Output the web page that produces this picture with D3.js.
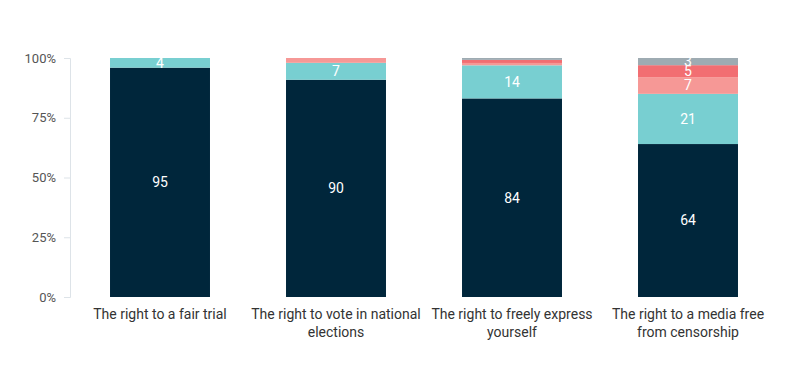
<!DOCTYPE html>
<html>
<head>
<meta charset="utf-8">
<script src="https://cdn.jsdelivr.net/npm/d3@7"></script>
<style>
  body { margin: 0; background: #fff; }
  #chart { width: 800px; height: 373px; }
  text { font-family: Roboto, "Noto Sans", sans-serif; }
</style>
</head>
<body>
<div id="chart"></div>
<script>
var categories = ["The right to a fair trial", "The right to vote in national elections",
  "The right to freely express yourself", "The right to a media free from censorship"];
var seriesNames = ["s1", "s2", "s3", "s4", "s5"];
var s1 = [95, 90, 84, 64];
var s2 = [4, 7, 14, 21];
var s3 = [0, 2, 1, 7];
var s4 = [0, 0, 1.3, 5];
var s5 = [0, 0, 0.8, 3];
var tickValues = [0, 0.25, 0.5, 0.75, 1];
var colors = ["#00263b", "#78cfd1", "#f69896", "#f26e72", "#9eabb2"];

var width = 800, height = 373;
var margin = { top: 58, left: 70, right: 24, bottom: 76 };

var svg = d3.select("#chart").append("svg")
    .attr("width", width)
    .attr("height", height);

// rows for the stack
var rows = categories.map(function(c, i) {
  return { cat: c, s1: s1[i], s2: s2[i], s3: s3[i], s4: s4[i], s5: s5[i] };
});

var stack = d3.stack().keys(seriesNames).offset(d3.stackOffsetExpand);
var layers = stack(rows);

var x = d3.scaleBand()
    .domain(categories)
    .range([72, 776])
    .paddingInner(0.432)
    .paddingOuter(0.216);

var y = d3.scaleLinear()
    .domain([0, 1])
    .range([height - margin.bottom, margin.top]);

// y axis
var yAxis = svg.append("g")
    .attr("transform", "translate(" + margin.left + ",0)")
    .call(d3.axisLeft(y).tickValues(tickValues).tickFormat(d3.format(".0%")).tickSize(6).tickPadding(8));
yAxis.select(".domain").attr("stroke", "#dde3e8");
yAxis.selectAll(".tick line").attr("stroke", "#dde3e8");
yAxis.selectAll(".tick text")
    .attr("fill", "#555")
    .style("font-size", "13px");

// bars
var g = svg.append("g");
layers.forEach(function(layer, li) {
  g.selectAll(".bar" + li)
    .data(layer)
    .enter().append("rect")
    .attr("x", function(d) { return x(d.data.cat); })
    .attr("width", x.bandwidth())
    .attr("y", function(d) { return y(d[1]); })
    .attr("height", function(d) { return y(d[0]) - y(d[1]); })
    .attr("fill", colors[li]);

  // value labels, small ones are skipped
  g.selectAll(".lab" + li)
    .data(layer.filter(function(d) { return d.data[layer.key] >= 3; }))
    .enter().append("text")
    .attr("x", function(d) { return x(d.data.cat) + x.bandwidth() / 2; })
    .attr("y", function(d) { return (y(d[0]) + y(d[1])) / 2; })
    .attr("dy", "0.35em")
    .attr("text-anchor", "middle")
    .attr("fill", "#fff")
    .style("font-size", "14px")
    .text(function(d) { return d.data[layer.key]; });
});

// category labels
var xl = svg.append("g")
    .selectAll("text")
    .data(categories)
    .enter().append("text")
    .attr("x", function(d) { return x(d) + x.bandwidth() / 2; })
    .attr("y", 319)
    .attr("text-anchor", "middle")
    .attr("fill", "#333")
    .style("font-size", "14px")
    .text(function(d) { return d; })
    .call(wrap, 170);

function wrap(sel, w) {
  sel.each(function() {
    var t = d3.select(this),
        words = t.text().split(/\s+/),
        cx = t.attr("x"),
        line = [],
        ts = t.text(null).append("tspan").attr("x", cx);
    words.forEach(function(word) {
      line.push(word);
      ts.text(line.join(" "));
      if (ts.node().getComputedTextLength() > w && line.length > 1) {
        line.pop();
        ts.text(line.join(" "));
        line = [word];
        ts = t.append("tspan").attr("x", cx).attr("dy", "1.25em").text(word);
      }
    });
  });
}
</script>
</body>
</html>
